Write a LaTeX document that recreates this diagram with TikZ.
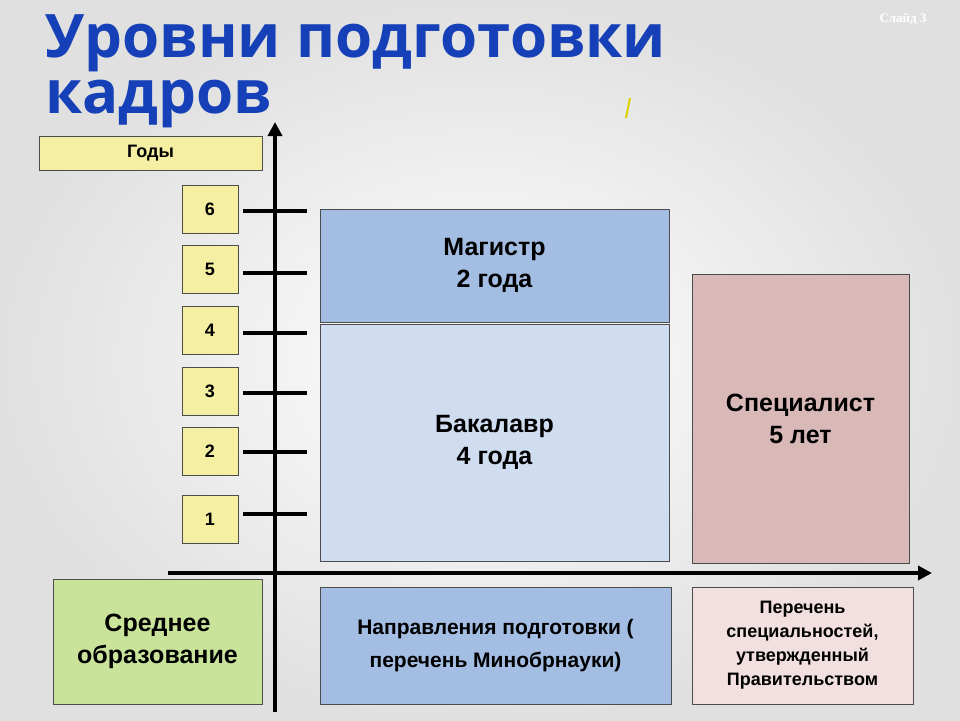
\documentclass[tikz,border=0pt]{standalone}
\usepackage{fontspec}
\setmainfont{Liberation Sans}
\newfontfamily\titlefont{Open Sans}
\newfontfamily\serifx{Liberation Serif}
\usetikzlibrary{arrows.meta}
\definecolor{ttl}{HTML}{1540B8}
\definecolor{yel}{HTML}{F5EFA3}
\definecolor{blu}{HTML}{A3BDE3}
\definecolor{lblu}{HTML}{D0DDF0}
\definecolor{pnk}{HTML}{D9B8B8}
\definecolor{lpnk}{HTML}{F2DFDF}
\definecolor{grn}{HTML}{C9E39A}
\begin{document}
\begin{tikzpicture}[x=1pt,y=-1pt,
  bx/.style={draw=black!70,line width=0.6pt,align=center,font=\bfseries\fontsize{18}{20}\selectfont},
  big/.style={font=\bfseries\fontsize{25}{32}\selectfont},
  tick/.style={line width=3.5pt},
  ttlf/.style={anchor=base west,text=ttl,font=\titlefont\bfseries\fontsize{60}{62}\selectfont},
  ax/.style={line width=4pt,-{Triangle[length=14pt,width=14pt]}}]
\useasboundingbox (0,0) rectangle (960,720);
\shade[inner color=white,outer color=black!12] (0,0) rectangle (960,720);
\node[ttlf] (t1) at (42,57) {Уровни подготовки};
\node[ttlf] (t2) at (42,113) {кадров};
\node[text=white,font=\serifx\bfseries\fontsize{13}{15}\selectfont] (sl) at (903,19) {Слайд 3};
\draw[yellow!70!olive,line width=2pt] (626,118) -- (630,98);
\node[bx,fill=yel,minimum width=223,minimum height=34] (g) at (150.5,153) {Годы};
\foreach \n/\y in {6/209,5/269.5,4/330,3/391,2/451,1/519}{
  \node[bx,fill=yel,minimum width=56,minimum height=48] (n\n) at (210,\y) {\n};}
\coordinate (ya) at (275,712); \coordinate (yb) at (275,122);
\coordinate (xa) at (168,573); \coordinate (xb) at (932,573);
\draw[ax] (ya) -- (yb);
\draw[ax] (xa) -- (xb);
\foreach \y in {211,273,333,393,452,514}{\draw[tick] (243,\y) -- (307,\y);}
\node[bx,big,fill=blu,minimum width=349,minimum height=113] (m) at (494.5,265.5) {Магистр\\2 года};
\node[bx,big,fill=lblu,minimum width=349,minimum height=237] (b) at (494.5,442.5) {Бакалавр\\4 года};
\node[bx,big,fill=pnk,minimum width=217,minimum height=289] (s) at (800.5,418.5) {Специалист\\5 лет};
\node[bx,big,fill=grn,minimum width=209,minimum height=125] (c) at (157.5,641.5) {Среднее\\образование};
\node[bx,fill=blu,minimum width=351,minimum height=117,font=\bfseries\fontsize{21}{33}\selectfont] (d) at (495.5,645.5) {Направления подготовки (\\перечень Минобрнауки)};
\node[bx,fill=lpnk,minimum width=221,minimum height=117,font=\bfseries\fontsize{18}{24}\selectfont] (p) at (802.5,645.5) {Перечень\\специальностей,\\утвержденный\\Правительством};
\end{tikzpicture}
\end{document}
